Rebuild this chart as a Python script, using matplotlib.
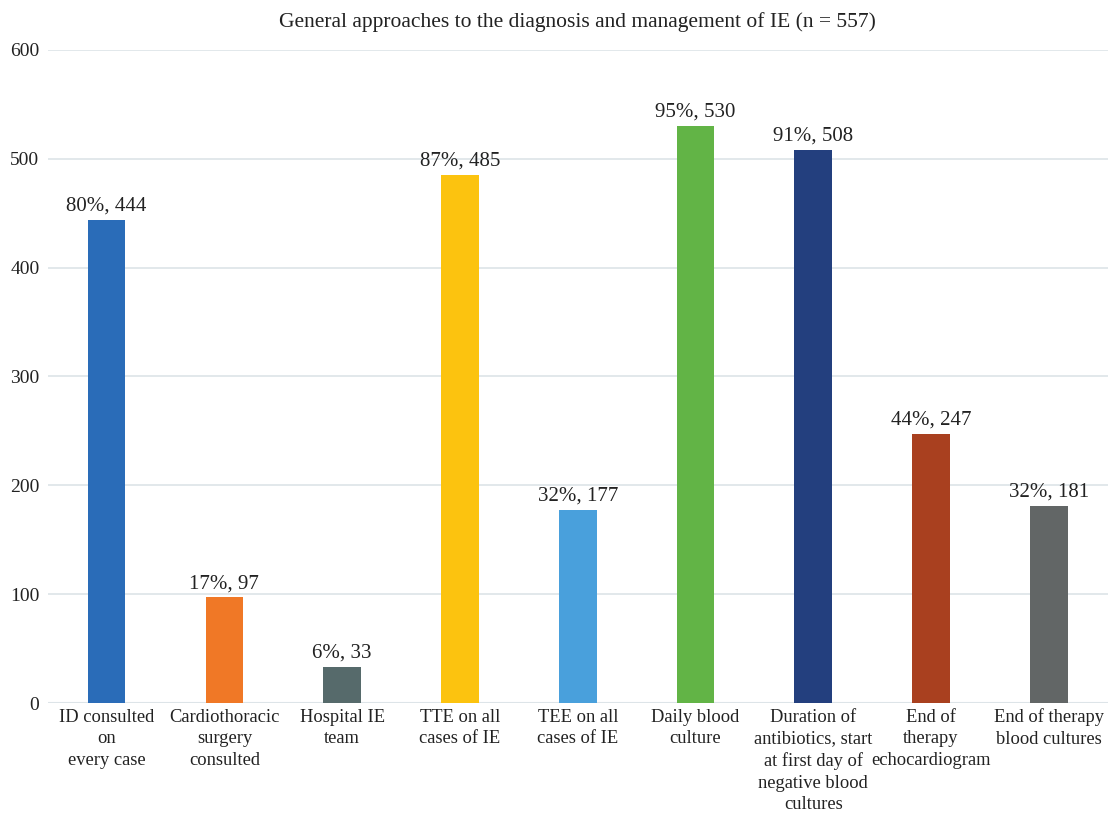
import matplotlib.pyplot as plt

categories = [
    "ID consulted\non\nevery case",
    "Cardiothoracic\nsurgery\nconsulted",
    "Hospital IE\nteam",
    "TTE on all\ncases of IE",
    "TEE on all\ncases of IE",
    "Daily blood\nculture",
    "Duration of\nantibiotics, start\nat first day of\nnegative blood\ncultures",
    "End of\ntherapy\nechocardiogram",
    "End of therapy\nblood cultures",
]
counts = [444, 97, 33, 485, 177, 530, 508, 247, 181]
percents = [80, 17, 6, 87, 32, 95, 91, 44, 32]
colors = ["#2a6cb8", "#f07826", "#566a6b", "#fcc30f", "#49a0dc",
          "#62b446", "#233f7e", "#a9401f", "#626666"]

plt.rcParams["font.family"] = ["Liberation Serif", "DejaVu Serif"]

fig = plt.figure(figsize=(11.1, 8.15), dpi=100)
ax = fig.add_axes([0.043, 0.1374, 0.955, 0.8013])

x = list(range(len(categories)))
ax.bar(x, counts, width=0.32, color=colors, zorder=3)
for xi, c, p in zip(x, counts, percents):
    ax.text(xi, c + 4, f"{p}%, {c}", ha="center", va="bottom",
            fontsize=15, color="#222222")

ax.set_xlim(-0.5, len(categories) - 0.5)
ax.set_ylim(0, 600)
ax.set_yticks(range(0, 601, 100))
ax.yaxis.grid(True, color="#dde4e8", linewidth=1.2, zorder=0)
ax.set_xticks(x)
ax.set_xticklabels(categories, fontsize=13.3, color="#222222", linespacing=1.36)
ax.tick_params(axis="y", labelsize=14, colors="#222222", length=0, pad=6)
ax.tick_params(axis="x", length=0, pad=4)
for s in ax.spines.values():
    s.set_visible(False)
ax.axhline(0, color="#dde4e8", linewidth=1.5, zorder=2)

fig.text(0.52, 0.973, "General approaches to the diagnosis and management of IE (n = 557)",
         ha="center", va="center", fontsize=15.5, color="#222222")

fig.savefig("out.png", dpi=100)
